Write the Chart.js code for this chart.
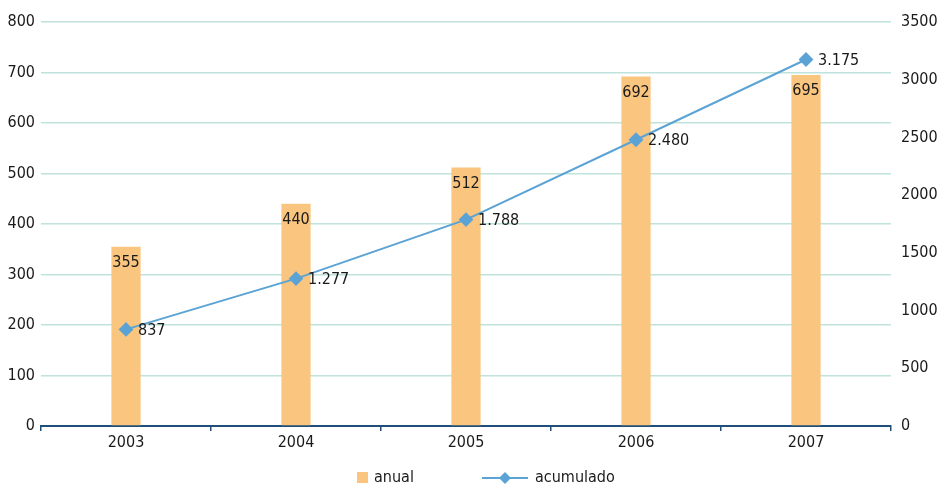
<!DOCTYPE html>
<html>
<head>
<meta charset="utf-8">
<script src="https://cdn.jsdelivr.net/npm/chart.js@4/dist/chart.umd.min.js"></script>
<style>
  html, body { margin: 0; padding: 0; background: #fff; }
  #wrap { width: 938px; height: 489px; }
</style>
</head>
<body>
<div id="wrap"><canvas id="myChart"></canvas></div>
<script>
// series
let years = ['2003', '2004', '2005', '2006', '2007'];
let anual = [355, 440, 512, 692, 695];
let acumulado = [837, 1277, 1788, 2480, 3175];

let FONT = "'DejaVu Sans Condensed', 'Liberation Sans Narrow', sans-serif";
let FSIZE = 16;
let barColor = '#f9c57f';
let lineColor = '#5ba3d5';

// 1277 -> 1.277
function fmt(v) {
    return String(v).replace(/\B(?=(\d{3})+(?!\d))/g, '.');
}

// value labels + bottom legend
let labelsPlugin = {
    id: 'labels',
    afterDatasetsDraw: function(chart) {
        let ctx = chart.ctx;
        ctx.save();
        ctx.font = FSIZE + 'px ' + FONT;
        ctx.fillStyle = '#1a1a1a';

        // bars (dataset 1): value inside, at the top
        chart.getDatasetMeta(1).data.forEach(function(bar, i) {
            ctx.textAlign = 'center';
            ctx.textBaseline = 'middle';
            ctx.fillText(fmt(anual[i]), bar.x, bar.y + 16);
        });
        // line (dataset 0): value to the right of the marker
        chart.getDatasetMeta(0).data.forEach(function(pt, i) {
            ctx.textAlign = 'left';
            ctx.textBaseline = 'middle';
            ctx.fillText(fmt(acumulado[i]), pt.x + 12, pt.y + 1);
        });

        // legend
        let ly = 478;
        ctx.fillStyle = barColor;
        ctx.fillRect(357, ly - 6, 11, 11);
        ctx.fillStyle = '#1a1a1a';
        ctx.textAlign = 'left';
        ctx.fillText('anual', 374, ly);

        ctx.strokeStyle = lineColor;
        ctx.lineWidth = 2;
        ctx.beginPath();
        ctx.moveTo(482, ly);
        ctx.lineTo(528, ly);
        ctx.stroke();
        ctx.fillStyle = lineColor;
        ctx.beginPath();
        ctx.moveTo(505, ly - 6);
        ctx.lineTo(511, ly);
        ctx.lineTo(505, ly + 6);
        ctx.lineTo(499, ly);
        ctx.closePath();
        ctx.fill();
        ctx.fillStyle = '#1a1a1a';
        ctx.fillText('acumulado', 535, ly);
        ctx.restore();
    }
};

let myChart = document.getElementById('myChart').getContext('2d');
let chart1 = new Chart(myChart, {
    data: {
        labels: years,
        datasets: [
            {
                type: 'line',
                label: 'acumulado',
                data: acumulado,
                yAxisID: 'y2',
                borderColor: lineColor,
                borderWidth: 2,
                backgroundColor: lineColor,
                pointStyle: 'rectRot',
                pointRadius: 6,
                pointHoverRadius: 6,
                tension: 0,
                order: 0
            },
            {
                type: 'bar',
                label: 'anual',
                data: anual,
                yAxisID: 'y',
                backgroundColor: barColor,
                barPercentage: 0.172,
                categoryPercentage: 1,
                order: 1
            }
        ]
    },
    options: {
        responsive: true,
        maintainAspectRatio: false,
        animation: false,
        layout: { padding: { top: 22, bottom: 37, left: 0, right: 0 } },
        plugins: {
            legend: { display: false },
            tooltip: { enabled: false }
        },
        scales: {
            x: {
                offset: true,
                grid: {
                    offset: true,
                    drawOnChartArea: false,
                    drawTicks: true,
                    tickLength: 5,
                    color: '#1f4e79',
                    lineWidth: 1.5
                },
                border: { display: true, color: '#1f4e79', width: 2 },
                ticks: { color: '#1a1a1a', font: { family: FONT, size: FSIZE }, padding: 2 },
                afterFit: function(scale) { scale.height = 26; }
            },
            y: {
                position: 'left',
                min: 0,
                max: 800,
                ticks: { stepSize: 100, color: '#1a1a1a', font: { family: FONT, size: FSIZE }, padding: 6 },
                grid: { color: '#bfe3dc', lineWidth: 1.5, drawTicks: false },
                border: { display: false },
                afterFit: function(scale) { scale.width = 41; }
            },
            y2: {
                position: 'right',
                min: 0,
                max: 3500,
                ticks: {
                    stepSize: 500,
                    color: '#1a1a1a',
                    font: { family: FONT, size: FSIZE },
                    padding: 10,
                    callback: function(v) { return String(v); }
                },
                grid: { display: false, drawTicks: false },
                border: { display: false },
                afterFit: function(scale) { scale.width = 47; }
            }
        }
    },
    plugins: [labelsPlugin]
});
</script>
</body>
</html>
